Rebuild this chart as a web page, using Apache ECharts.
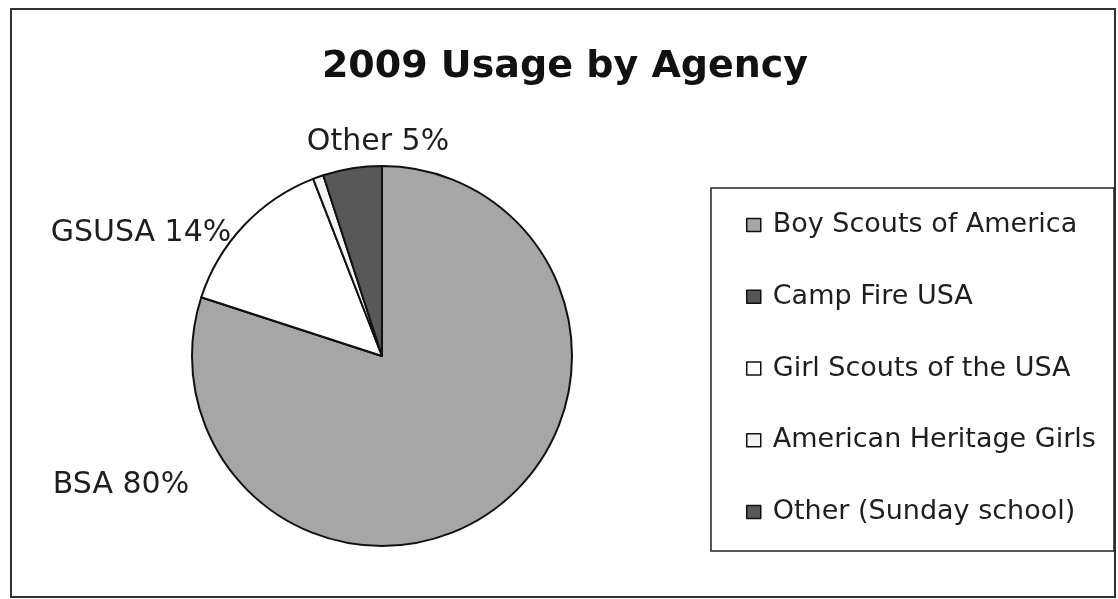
<!DOCTYPE html>
<html>
<head>
<meta charset="utf-8">
<script src="https://cdn.jsdelivr.net/npm/echarts@6/dist/echarts.min.js"></script>
<style>
  html, body { margin: 0; padding: 0; background: #fff; }
  #main { width: 1118px; height: 599px; }
</style>
</head>
<body>
<div id="main"></div>
<script>
var agencies = ['Boy Scouts of America', 'Camp Fire USA', 'Girl Scouts of the USA', 'American Heritage Girls', 'Other (Sunday school)'];
var shortNames = ['BSA', 'Camp Fire', 'GSUSA', 'AHG', 'Other'];
var usage = [80, 0, 14.1, 0.9, 5];
var shownLabels = [true, false, true, false, true];
var colors = ['#a6a6a6', '#555555', '#ffffff', '#f4f4f4', '#585858'];

var ec = echarts.init(document.getElementById('main'));

// where Excel put the data labels (center of text)
var labelSpots = { 0: [121, 485], 2: [141, 233], 4: [378, 142] };

var pieData = agencies.map(function (name, i) {
    return {
        name: name,
        value: usage[i],
        itemStyle: { color: colors[i] },
        label: { show: shownLabels[i] }
    };
});

ec.setOption({
    animation: false,
    textStyle: { fontFamily: 'DejaVu Sans, sans-serif' },
    title: {
        text: '2009 Usage by Agency',
        left: 560,
        textAlign: 'center',
        top: 43,
        textStyle: { fontSize: 38, fontWeight: 'bold', color: '#111' }
    },
    graphic: [{
        type: 'rect',
        shape: { x: 11, y: 9, width: 1104, height: 588 },
        style: { fill: 'none', stroke: '#333', lineWidth: 2 },
        z: -1
    }, {
        type: 'rect',
        shape: { x: 711, y: 188, width: 403, height: 363 },
        style: { fill: 'none', stroke: '#222', lineWidth: 1.5 },
        z: -1
    }],
    legend: {
        orient: 'vertical',
        left: 746,
        top: 211,
        padding: 0,
        itemWidth: 14,
        itemHeight: 13,
        itemGap: 43.75,
        icon: 'rect',
        itemStyle: { borderColor: '#111', borderWidth: 1.5 },
        textStyle: { fontSize: 27, lineHeight: 28, color: '#1e1e1e', padding: [0, 0, 0, 7] },
        data: agencies
    },
    series: [{
        type: 'pie',
        center: [382, 356],
        radius: 190,
        startAngle: 90,
        clockwise: true,
        stillShowZeroSum: false,
        itemStyle: { borderColor: '#111', borderWidth: 2 },
        label: {
            position: 'outside',
            fontSize: 30,
            color: '#1e1e1e',
            formatter: function (p) {
                return shortNames[p.dataIndex] + ' ' + Math.round(p.value) + '%';
            }
        },
        labelLine: { show: false },
        labelLayout: function (p) {
            var s = labelSpots[p.dataIndex];
            if (!s) return {};
            return { x: s[0], y: s[1], align: 'center', verticalAlign: 'middle' };
        },
        emphasis: { disabled: true },
        data: pieData
    }]
});
</script>
</body>
</html>
